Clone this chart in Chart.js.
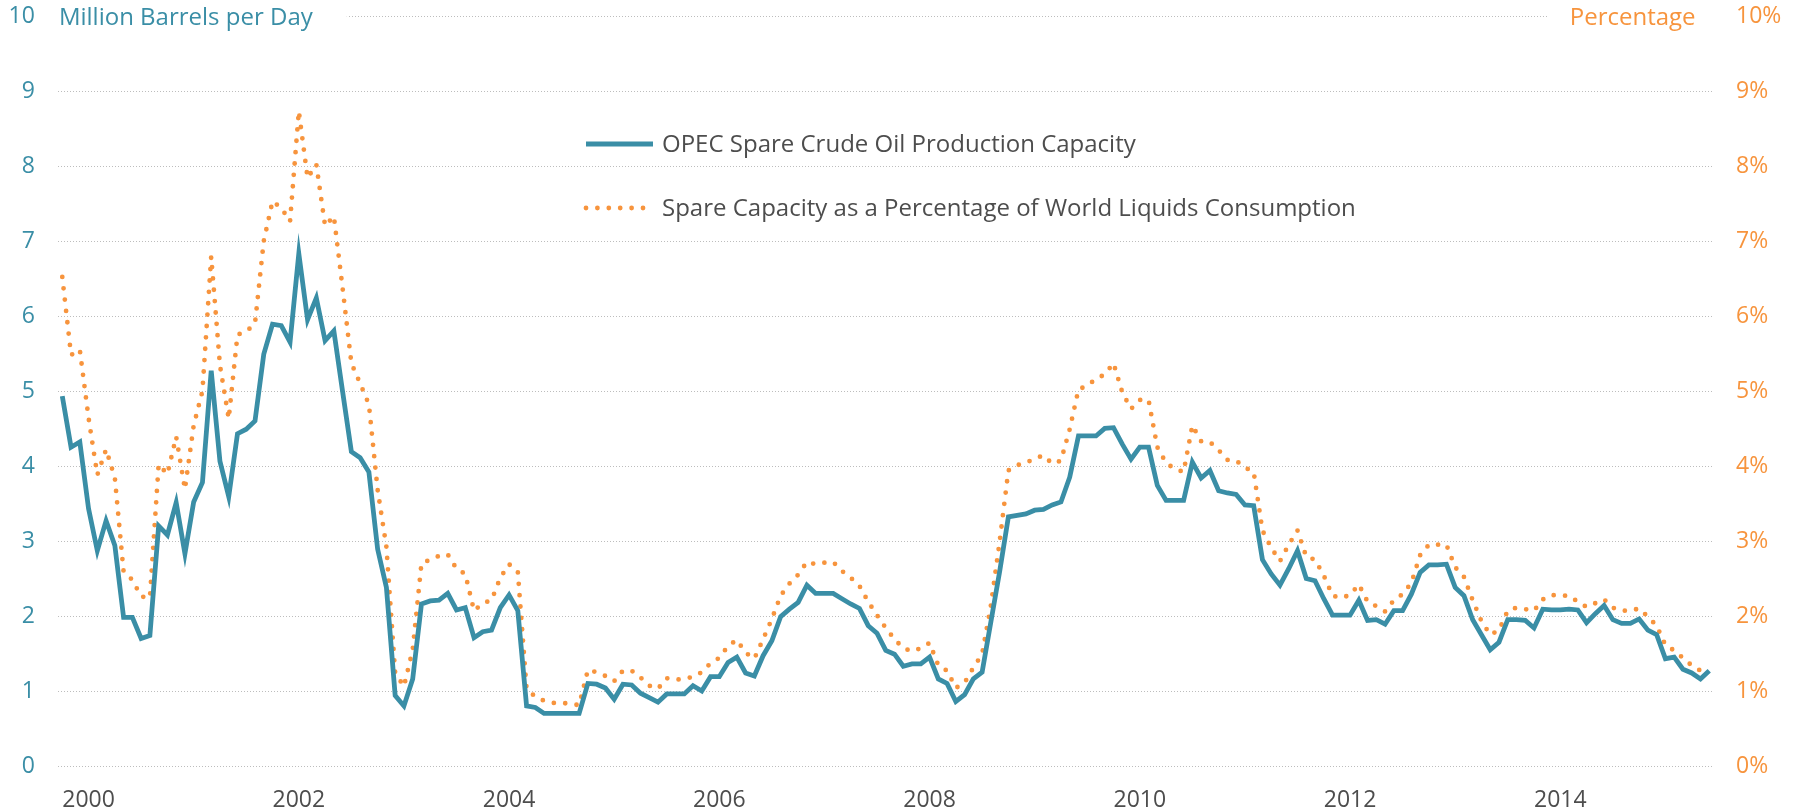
<!DOCTYPE html>
<html>
<head>
<meta charset="utf-8">
<script src="https://cdn.jsdelivr.net/npm/chart.js@4.4.1/dist/chart.umd.min.js"></script>
<style>
  html, body { margin: 0; padding: 0; background: #fff; }
  #wrap { width: 1803px; height: 808px; }
</style>
</head>
<body>
<div id="wrap"><canvas id="spareChart" width="1803" height="808"></canvas></div>
<script>
// monthly series, Oct 1999 .. Jun 2015
const startYear = 1999;
const startMonth = 10;

// million barrels per day
const opecSpare = [
  4.94, 4.26, 4.33, 3.44, 2.88, 3.28, 2.95, 1.99, 1.99, 1.71,
  1.75, 3.21, 3.09, 3.52, 2.84, 3.53, 3.79, 5.28, 4.07, 3.60,
  4.44, 4.50, 4.61, 5.50, 5.90, 5.88, 5.66, 6.84, 5.96, 6.25,
  5.68, 5.81, 5.00, 4.20, 4.12, 3.93, 2.90, 2.39, 0.95, 0.81,
  1.17, 2.17, 2.21, 2.22, 2.31, 2.09, 2.12, 1.72, 1.80, 1.82,
  2.12, 2.29, 2.08, 0.81, 0.79, 0.71, 0.71, 0.71, 0.71, 0.71,
  1.11, 1.10, 1.05, 0.90, 1.10, 1.09, 0.98, 0.92, 0.86, 0.97,
  0.97, 0.97, 1.08, 1.01, 1.20, 1.20, 1.39, 1.46, 1.25, 1.21,
  1.48, 1.68, 2.00, 2.10, 2.19, 2.42, 2.31, 2.31, 2.31, 2.24,
  2.17, 2.11, 1.88, 1.78, 1.55, 1.50, 1.34, 1.37, 1.37, 1.46,
  1.17, 1.11, 0.87, 0.96, 1.17, 1.26, 1.93, 2.60, 3.33, 3.35,
  3.37, 3.42, 3.43, 3.49, 3.53, 3.86, 4.41, 4.41, 4.41, 4.51,
  4.52, 4.30, 4.10, 4.26, 4.26, 3.75, 3.55, 3.55, 3.55, 4.06,
  3.85, 3.95, 3.68, 3.65, 3.63, 3.49, 3.48, 2.76, 2.57, 2.42,
  2.64, 2.88, 2.51, 2.48, 2.24, 2.02, 2.02, 2.02, 2.22, 1.95,
  1.96, 1.90, 2.08, 2.08, 2.30, 2.59, 2.69, 2.69, 2.70, 2.39,
  2.28, 1.96, 1.76, 1.56, 1.66, 1.96, 1.96, 1.95, 1.85, 2.10,
  2.09, 2.09, 2.10, 2.09, 1.92, 2.04, 2.15, 1.96, 1.91, 1.91,
  1.97, 1.82, 1.76, 1.44, 1.46, 1.30, 1.25, 1.17, 1.28
];

// percent of world liquids consumption
const sparePct = [
  6.53, 5.49, 5.56, 4.65, 3.89, 4.23, 3.85, 2.60, 2.49, 2.27,
  2.25, 4.03, 3.90, 4.40, 3.70, 4.55, 5.01, 6.80, 5.35, 4.64,
  5.76, 5.80, 5.91, 7.01, 7.54, 7.45, 7.27, 8.74, 7.85, 8.03,
  7.21, 7.34, 6.38, 5.38, 5.11, 4.83, 3.69, 2.93, 1.25, 1.07,
  1.56, 2.71, 2.76, 2.81, 2.83, 2.64, 2.57, 2.08, 2.18, 2.22,
  2.52, 2.70, 2.60, 1.04, 0.93, 0.88, 0.85, 0.85, 0.84, 0.82,
  1.29, 1.26, 1.21, 1.14, 1.28, 1.28, 1.19, 1.08, 1.04, 1.18,
  1.16, 1.17, 1.20, 1.26, 1.38, 1.45, 1.61, 1.69, 1.52, 1.44,
  1.70, 1.97, 2.28, 2.44, 2.56, 2.73, 2.70, 2.72, 2.73, 2.61,
  2.52, 2.41, 2.20, 2.02, 1.85, 1.70, 1.58, 1.54, 1.58, 1.65,
  1.35, 1.28, 1.05, 1.12, 1.32, 1.50, 2.15, 3.00, 3.95, 4.02,
  4.05, 4.11, 4.15, 4.04, 4.08, 4.50, 5.03, 5.08, 5.17, 5.23,
  5.38, 4.99, 4.77, 4.89, 4.89, 4.26, 4.05, 3.97, 3.93, 4.55,
  4.34, 4.33, 4.22, 4.09, 4.08, 3.99, 3.93, 3.15, 2.92, 2.74,
  2.96, 3.15, 2.80, 2.76, 2.55, 2.28, 2.25, 2.29, 2.43, 2.20,
  2.14, 2.07, 2.22, 2.30, 2.45, 2.82, 2.96, 2.96, 2.96, 2.66,
  2.53, 2.22, 1.94, 1.76, 1.82, 2.08, 2.12, 2.10, 2.08, 2.23,
  2.29, 2.28, 2.28, 2.20, 2.13, 2.18, 2.23, 2.12, 2.08, 2.08,
  2.11, 2.00, 1.88, 1.62, 1.55, 1.45, 1.35, 1.28, 1.32
];

const xTickYears = ['2000', '2002', '2004', '2006', '2008', '2010', '2012', '2014'];
const leftTitle = 'Million Barrels per Day';
const rightTitle = 'Percentage';

// category labels, one per month
const months = [];
for (let i = 0; i < opecSpare.length; i++) {
  const m = startMonth - 1 + i;
  const y = startYear + Math.floor(m / 12);
  const mm = (m % 12) + 1;
  months.push(y + '-' + (mm < 10 ? '0' + mm : mm));
}

const TEAL = '#3a8ea6';
const ORANGE = '#f7943d';
const TEXT = '#4d4d4d';
const FONT = '"Open Sans", "DejaVu Sans", sans-serif';

// titles on the top gridline and the legend inside the plot
const overlay = {
  id: 'overlay',
  beforeDatasetsDraw(chart) {
    const { ctx, chartArea } = chart;
    const yTop = chart.scales.y.getPixelForValue(10);
    ctx.save();
    ctx.font = '24px ' + FONT;
    ctx.textBaseline = 'middle';
    const lw = ctx.measureText(leftTitle).width;
    const rw = ctx.measureText(rightTitle).width;
    ctx.fillStyle = '#fff';
    ctx.fillRect(chartArea.left - 1, yTop - 3, lw + 36, 6);
    ctx.fillRect(chartArea.right - rw - 40, yTop - 3, rw + 42, 6);
    ctx.fillStyle = TEAL;
    ctx.textAlign = 'left';
    ctx.fillText(leftTitle, chartArea.left + 1, yTop + 1);
    ctx.fillStyle = ORANGE;
    ctx.textAlign = 'right';
    ctx.fillText(rightTitle, chartArea.right - 18, yTop + 1);
    ctx.restore();
  },
  afterDatasetsDraw(chart) {
    const { ctx } = chart;
    const rows = [144, 208];
    ctx.save();
    ctx.font = '24px ' + FONT;
    ctx.textBaseline = 'middle';
    ctx.textAlign = 'left';
    chart.data.datasets.forEach((ds, i) => {
      const y = rows[i];
      ctx.beginPath();
      ctx.strokeStyle = ds.borderColor;
      ctx.lineWidth = ds.borderWidth;
      ctx.lineCap = ds.borderCapStyle || 'butt';
      ctx.setLineDash(ds.borderDash || []);
      ctx.moveTo(586, y);
      ctx.lineTo(653, y);
      ctx.stroke();
      ctx.fillStyle = TEXT;
      ctx.fillText(ds.label, 662, y + 1);
    });
    ctx.restore();
  }
};

function fixVertical(s, w) {
  s.width = w;
  s.paddingTop = 0;
  s.paddingBottom = 0;
}

const ctx = document.getElementById('spareChart').getContext('2d');
new Chart(ctx, {
  type: 'line',
  data: {
    labels: months,
    datasets: [
      {
        label: 'OPEC Spare Crude Oil Production Capacity',
        data: opecSpare,
        yAxisID: 'y',
        borderColor: TEAL,
        borderWidth: 4.8,
        borderJoinStyle: 'miter',
        pointRadius: 0,
        tension: 0,
        fill: false
      },
      {
        label: 'Spare Capacity as a Percentage of World Liquids Consumption',
        data: sparePct,
        yAxisID: 'y1',
        borderColor: ORANGE,
        borderWidth: 4.8,
        borderDash: [0, 11.4],
        borderCapStyle: 'round',
        pointRadius: 0,
        tension: 0,
        fill: false
      }
    ]
  },
  options: {
    responsive: false,
    animation: false,
    devicePixelRatio: 1,
    layout: { padding: { top: 16.7, left: 0, right: 0, bottom: 0 } },
    plugins: {
      legend: { display: false },
      tooltip: { enabled: false }
    },
    scales: {
      x: {
        type: 'category',
        offset: true,
        grid: { display: false },
        border: { display: false },
        ticks: {
          autoSkip: false,
          maxRotation: 0,
          minRotation: 0,
          padding: 12,
          color: TEXT,
          font: { family: FONT, size: 23 },
          callback: function (v, i) {
            const lab = months[i];
            const yr = lab.slice(0, 4);
            return (lab.slice(5) === '01' && xTickYears.includes(yr)) ? yr : '';
          }
        },
        afterFit: function (s) { s.height = 41.3; s.paddingLeft = 0; s.paddingRight = 0; }
      },
      y: {
        position: 'left',
        min: 0,
        max: 10,
        grid: { color: '#bdbdbd', lineWidth: 1, drawTicks: false },
        border: { display: false, dash: [1, 2] },
        ticks: {
          stepSize: 1,
          padding: 23,
          color: TEAL,
          font: { family: FONT, size: 23 }
        },
        afterFit: function (s) { fixVertical(s, 57.9); }
      },
      y1: {
        position: 'right',
        min: 0,
        max: 10,
        grid: { display: false, drawTicks: false },
        border: { display: false },
        ticks: {
          stepSize: 1,
          padding: 22.4,
          color: ORANGE,
          font: { family: FONT, size: 23 },
          callback: v => v + '%'
        },
        afterFit: function (s) { fixVertical(s, 89.4); }
      }
    }
  },
  plugins: [overlay]
});
</script>
</body>
</html>
